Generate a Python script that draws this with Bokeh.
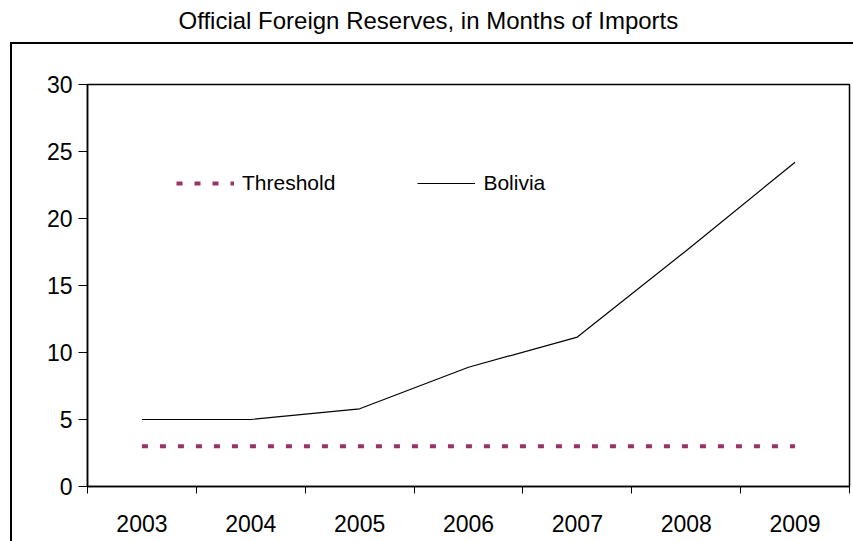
from bokeh.plotting import figure
from bokeh.models import Range1d, FixedTicker, Legend, LegendItem, Title
from bokeh.embed import file_html
from bokeh.resources import INLINE

title_text = "Official Foreign Reserves, in Months of Imports"
years = ["2003", "2004", "2005", "2006", "2007", "2008", "2009"]
bolivia = [5.0, 5.0, 5.8, 8.9, 11.15, 17.6, 24.2]
threshold = [3, 3, 3, 3, 3, 3, 3]
y_ticks = [0, 5, 10, 15, 20, 25, 30]

FONT = "Liberation Sans"
x = [i + 0.5 for i in range(len(years))]

p = figure(width=853, height=541, output_backend="svg", toolbar_location=None,
           x_range=Range1d(0, len(years)), y_range=Range1d(0, 30),
           min_border_left=87, min_border_right=4, min_border_top=84, min_border_bottom=55)
p.border_fill_color = None
p.background_fill_color = "white"
p.styles = {"background": "linear-gradient(#000,#000) 10px 42px / 2px 499px no-repeat, "
                          "linear-gradient(#000,#000) 10px 42px / 843px 2px no-repeat, #fff"}

# invisible spacer panel between the frame and the title
p.add_layout(Title(text=" ", text_font_size="10px", standoff=34), "above")
p.add_layout(Title(text=title_text, text_font=FONT, text_font_size="24px",
                   text_font_style="normal", text_color="black",
                   align="left", offset=91, standoff=8, vertical_align="bottom"), "above")

p.xgrid.visible = False
p.ygrid.visible = False
p.outline_line_color = "black"
p.outline_line_width = 1.5

xa = p.xaxis[0]
xa.ticker = FixedTicker(ticks=x, minor_ticks=list(range(len(years) + 1)))
xa.major_label_overrides = {xi: yr for xi, yr in zip(x, years)}
xa.major_tick_line_color = None
xa.major_tick_out = 0
xa.major_tick_in = 0
xa.minor_tick_out = 7
xa.minor_tick_in = 0
xa.minor_tick_line_color = "black"
xa.minor_tick_line_width = 1
xa.axis_line_color = "black"
xa.axis_line_width = 1.5
xa.major_label_text_font = FONT
xa.major_label_text_font_size = "23px"
xa.major_label_text_color = "black"
xa.major_label_standoff = 21

ya = p.yaxis[0]
ya.ticker = FixedTicker(ticks=y_ticks)
ya.major_tick_out = 9
ya.major_tick_in = 0
ya.major_tick_line_color = "black"
ya.minor_tick_line_color = None
ya.axis_line_color = "black"
ya.axis_line_width = 1.5
ya.major_label_text_font = FONT
ya.major_label_text_font_size = "23px"
ya.major_label_text_color = "black"
ya.major_label_standoff = 6

r_t = p.line(x, threshold, line_color="#993366", line_width=4, line_dash="6 12")
r_b = p.line(x, bolivia, line_color="black", line_width=1.2)

legend = Legend(items=[LegendItem(label="Threshold", renderers=[r_t]),
                       LegendItem(label="Bolivia", renderers=[r_b])],
                orientation="horizontal", location=(89, 291),
                glyph_width=58, glyph_height=20, label_height=20, label_standoff=8,
                spacing=82, padding=0, margin=0, border_line_color=None,
                background_fill_alpha=0, label_text_font=FONT,
                label_text_font_size="21px", label_text_color="black")
p.add_layout(legend)

open("out.html", "w").write(file_html(p, INLINE))
